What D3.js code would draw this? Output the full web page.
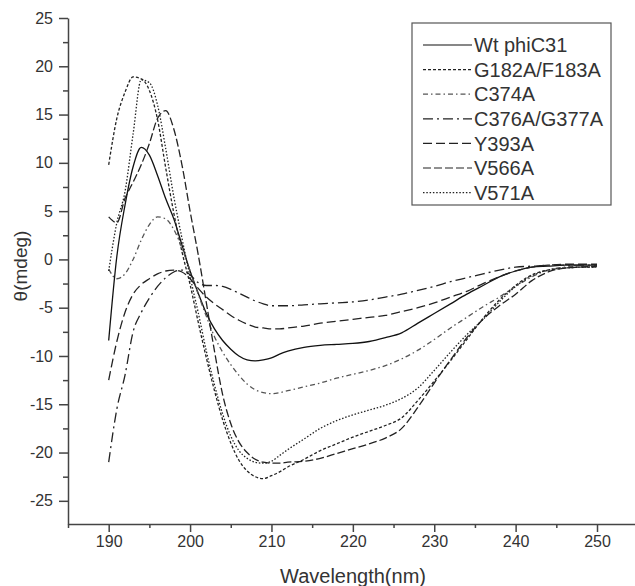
<!DOCTYPE html>
<html>
<head>
<meta charset="utf-8">
<script src="https://cdn.jsdelivr.net/npm/d3@7"></script>
<style>
  body { margin: 0; background: #fff; }
  text { font-family: Arial, "Liberation Sans", sans-serif; fill: #333; }
</style>
</head>
<body>
<script>
// wavelengths (nm) shared by all spectra
const wl = [190,191,192,193,194,195,196,197,198,199,200,201,202,203,204,205,206,207,208,209,210,211,212,
            214,216,218,220,222,224,226,228,230,232,234,236,238,240,242,244,246,248,250]

// ellipticity values (mdeg)
const wtPhiC31 = [-8.4,0.3,5.6,9.6,11.6,10.8,8.7,6.3,4.2,1.5,-1.2,-3.5,-5.6,-7.2,-8.4,-9.3,-10.0,-10.4,-10.5,-10.4,-10.2,-9.8,-9.5,
                  -9.1,-8.9,-8.8,-8.7,-8.5,-8.1,-7.6,-6.6,-5.6,-4.6,-3.6,-2.7,-1.8,-1.2,-0.8,-0.7,-0.6,-0.6,-0.6]
const g182a = [9.8,14.6,17.3,18.9,18.7,17.5,14.5,9.5,4.8,0.8,-2.6,-6.5,-10.2,-13.6,-16.6,-19.0,-20.8,-21.9,-22.5,-22.7,-22.4,-22.0,-21.5,
               -20.7,-19.8,-19.1,-18.4,-17.8,-17.2,-16.4,-14.6,-12.6,-10.5,-8.3,-6.1,-4.2,-2.7,-1.6,-1.1,-0.9,-0.8,-0.8]
const c374a = [-1.0,-2.0,-1.5,0.0,2.0,3.6,4.4,4.2,3.1,1.2,-1.2,-3.6,-5.9,-8.0,-9.6,-10.9,-12.0,-12.9,-13.5,-13.8,-13.9,-13.8,-13.6,
               -13.2,-12.8,-12.3,-11.9,-11.5,-11.0,-10.3,-9.4,-8.3,-7.1,-6.0,-4.9,-3.9,-2.8,-1.8,-1.1,-0.8,-0.7,-0.7]
const c376a = [-21.0,-15.5,-12.0,-7.5,-5.5,-4.0,-2.8,-1.9,-1.3,-1.1,-1.6,-2.4,-2.7,-2.7,-2.8,-3.1,-3.5,-3.9,-4.3,-4.6,-4.8,-4.8,-4.8,
               -4.7,-4.6,-4.5,-4.4,-4.2,-3.9,-3.6,-3.2,-2.8,-2.3,-1.9,-1.5,-1.1,-0.8,-0.7,-0.6,-0.6,-0.6,-0.6]
const y393a = [-12.5,-8.5,-5.5,-3.6,-2.6,-2.0,-1.5,-1.2,-1.1,-1.3,-2.0,-3.0,-3.9,-4.6,-5.2,-5.8,-6.3,-6.7,-7.0,-7.1,-7.2,-7.2,-7.1,
               -6.9,-6.6,-6.4,-6.2,-6.0,-5.8,-5.4,-5.0,-4.5,-3.9,-3.3,-2.5,-1.8,-1.2,-0.8,-0.6,-0.5,-0.5,-0.5]
const v566a = [4.4,3.8,6.3,8.0,9.8,12.0,14.6,15.4,13.5,9.8,5.0,0.5,-4.5,-9.5,-14.0,-17.0,-18.9,-20.0,-20.7,-21.0,-21.1,-21.1,-21.0,
               -20.9,-20.6,-20.1,-19.6,-19.1,-18.5,-17.5,-15.3,-12.8,-10.4,-8.1,-6.2,-4.8,-3.6,-2.2,-1.3,-0.9,-0.8,-0.7]
const v571a = [-1.2,3.8,7.0,13.0,18.6,18.3,16.0,11.5,6.5,2.2,-1.8,-5.5,-9.5,-13.0,-16.0,-18.3,-19.8,-20.6,-21.0,-21.1,-20.9,-20.3,-19.7,
               -18.6,-17.5,-16.7,-16.1,-15.6,-15.1,-14.4,-13.3,-11.5,-9.6,-7.8,-6.2,-4.4,-2.8,-1.7,-1.1,-0.9,-0.8,-0.8]

const names = ['Wt phiC31', 'G182A/F183A', 'C374A', 'C376A/G377A', 'Y393A', 'V566A', 'V571A']
const values = [wtPhiC31, g182a, c374a, c376a, y393a, v566a, v571a]

const xTicks = [190, 200, 210, 220, 230, 240, 250]
const yTicks = [-25, -20, -15, -10, -5, 0, 5, 10, 15, 20, 25]

// line styles
const dashes = ['none', '3,2', '5,3,1.5,3', '10,4,2,4', '9,4', '8,3', '1.5,1.8']
const colors = ['#111', '#222', '#555', '#222', '#222', '#222', '#222']

const m = { width: 635, height: 586 }

const svg = d3.select('body').append('svg')
    .attr('width', m.width)
    .attr('height', m.height)

const x = d3.scaleLinear().domain([185, 255]).range([68, 637.7])
const y = d3.scaleLinear().domain([-27.4, 25]).range([524, 18])

// x axis with minor ticks
svg.append('g')
    .attr('transform', `translate(0,${y(-27.4)})`)
    .call(d3.axisBottom(x).tickValues(xTicks).tickSize(8).tickSizeOuter(0).tickPadding(4).tickFormat(d => String(d)))
svg.append('g')
    .attr('transform', `translate(0,${y(-27.4)})`)
    .call(d3.axisBottom(x).tickValues(xTicks.map(d => d - 5)).tickSize(4).tickSizeOuter(0).tickFormat(''))
    .select('.domain').remove()

// y axis with minor ticks
svg.append('g')
    .attr('transform', `translate(${x(185)},0)`)
    .call(d3.axisLeft(y).tickValues(yTicks).tickSize(9).tickSizeOuter(0).tickPadding(6).tickFormat(d => String(d)))
svg.append('g')
    .attr('transform', `translate(${x(185)},0)`)
    .call(d3.axisLeft(y).tickValues(yTicks.slice(1).map(d => d - 2.5)).tickSize(5).tickSizeOuter(0).tickFormat(''))
    .select('.domain').remove()

svg.selectAll('.domain, .tick line').attr('stroke', '#444').attr('stroke-width', 1.5)
svg.selectAll('.tick text').style('font-size', '16px').attr('fill', '#333')

// axis titles
svg.append('text')
    .attr('x', 353).attr('y', 583)
    .attr('text-anchor', 'middle')
    .style('font-size', '20px')
    .text('Wavelength(nm)')

svg.append('text')
    .attr('transform', 'translate(27,266) rotate(-90)')
    .attr('text-anchor', 'middle')
    .style('font-size', '19px')
    .text('θ(mdeg)')

// spectra
const line = d3.line()
    .x(d => x(d[0]))
    .y(d => y(d[1]))
    .curve(d3.curveMonotoneX)

const series = names.map((n, i) => ({ name: n, pts: wl.map((w, j) => [w, values[i][j]]) }))

svg.append('g').selectAll('path')
    .data(series)
    .enter()
    .append('path')
        .attr('d', d => line(d.pts))
        .attr('fill', 'none')
        .attr('stroke', (d, i) => colors[i])
        .attr('stroke-width', 1.3)
        .attr('stroke-dasharray', (d, i) => dashes[i])

// legend
const lg = svg.append('g')
lg.append('rect')
    .attr('x', 412).attr('y', 23)
    .attr('width', 199).attr('height', 182)
    .attr('fill', '#fff')
    .attr('stroke', '#555')
    .attr('stroke-width', 1.2)

const rows = lg.selectAll('.row')
    .data(series)
    .enter()
    .append('g')
        .attr('transform', (d, i) => `translate(0,${45 + i * 24.6})`)

rows.append('line')
    .attr('x1', 423).attr('x2', 472)
    .attr('stroke', (d, i) => colors[i])
    .attr('stroke-width', 1.2)
    .attr('stroke-dasharray', (d, i) => dashes[i])

rows.append('text')
    .attr('x', 474)
    .attr('dy', '0.36em')
    .style('font-size', '20px')
    .text(d => d.name)
</script>
</body>
</html>
